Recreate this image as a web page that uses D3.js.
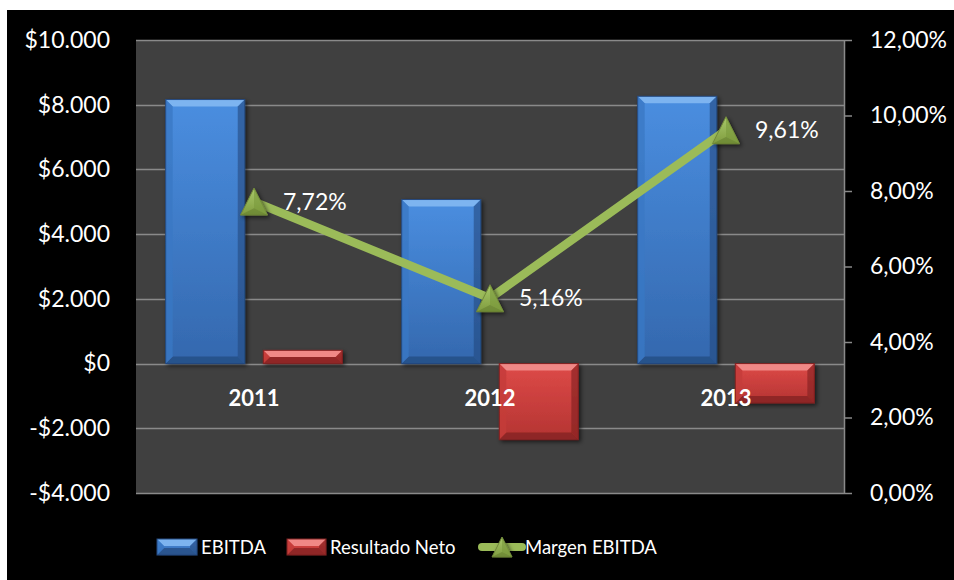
<!DOCTYPE html>
<html>
<head>
<meta charset="utf-8">
<script src="https://cdn.jsdelivr.net/npm/d3@7"></script>
<style>
  body { margin: 0; background: #fff; }
  svg text { font-family: Lato, "Open Sans", sans-serif; fill: #fff; }
</style>
</head>
<body>
<div id="chart"></div>
<script>
var years = ["2011", "2012", "2013"]
var series = ["EBITDA", "Resultado Neto"]
var ebitda = [8160, 5070, 8260]
var resultado = [410, -2350, -1220]
var margen = [0.0772, 0.0516, 0.0961]
var marginLabels = ["7,72%", "5,16%", "9,61%"]
var leftTicks = [-4000, -2000, 0, 2000, 4000, 6000, 8000, 10000]
var rightTicks = [0, 0.02, 0.04, 0.06, 0.08, 0.10, 0.12]

var width = 954, height = 580
var plot = { left: 136, right: 844, top: 40, bottom: 493 }

var locale = d3.formatLocale({
  decimal: ",", thousands: ".", grouping: [3], currency: ["$", ""], minus: "-"
})
var fmtMoney = locale.format("$,.0f")
var fmtPct = locale.format(".2%")

var svg = d3.select("#chart").append("svg")
  .attr("width", width)
  .attr("height", height)

var defs = svg.append("defs")

// bar gradients
var grads = [
  { id: "blue", top: "#4a8ee0", bottom: "#3468ae", hi: "#7db4f0", lo: "#24497e", side: "#3a78c4" },
  { id: "red", top: "#de4a48", bottom: "#b43432", hi: "#f08886", lo: "#7e2020", side: "#c43c3a" }
]
grads.forEach(function (g) {
  var lg = defs.append("linearGradient").attr("id", "g-" + g.id)
    .attr("x1", 0).attr("y1", 0).attr("x2", 0).attr("y2", 1)
  lg.append("stop").attr("offset", "0%").attr("stop-color", g.top)
  lg.append("stop").attr("offset", "100%").attr("stop-color", g.bottom)
})

var tg = defs.append("linearGradient").attr("id", "g-tri")
  .attr("x1", 0).attr("y1", 0).attr("x2", 0).attr("y2", 1)
tg.append("stop").attr("offset", "0%").attr("stop-color", "#a9c96a")
tg.append("stop").attr("offset", "100%").attr("stop-color", "#7f9c3f")

var shadow = defs.append("filter").attr("id", "shadow")
  .attr("x", "-20%").attr("y", "-20%").attr("width", "150%").attr("height", "150%")
shadow.append("feDropShadow").attr("dx", 2).attr("dy", 2).attr("stdDeviation", 2)
  .attr("flood-color", "#000").attr("flood-opacity", 0.6)

// background
svg.append("rect").attr("x", 7).attr("y", 10).attr("width", width - 7).attr("height", height - 10)
  .attr("fill", "#000")
svg.append("rect").attr("x", plot.left).attr("y", plot.top)
  .attr("width", plot.right - plot.left).attr("height", plot.bottom - plot.top)
  .attr("fill", "#404040")

var y = d3.scaleLinear().domain([-4000, 10000]).range([plot.bottom, plot.top])
var y2 = d3.scaleLinear().domain([0, 0.12]).range([plot.bottom, plot.top])
var x0 = d3.scaleBand().domain(years).range([plot.left, plot.right])
var x1 = d3.scaleBand().domain(series).range([0, x0.bandwidth()])
  .paddingInner(0.19).paddingOuter(0.304)

// gridlines
svg.append("g").selectAll("line").data(leftTicks).join("line")
  .attr("x1", plot.left).attr("x2", plot.right)
  .attr("y1", d => Math.round(y(d)) + 0.5).attr("y2", d => Math.round(y(d)) + 0.5)
  .attr("stroke", "#8a8a8a").attr("stroke-width", 1.5)

// left axis
var leftAxis = svg.append("g")
  .attr("transform", "translate(" + plot.left + ",0)")
  .call(d3.axisLeft(y).tickValues(leftTicks).tickFormat(fmtMoney).tickSize(0).tickPadding(26))
leftAxis.select(".domain").remove()
leftAxis.selectAll("text").style("font-size", "23px").attr("fill", "#fff")

// right axis
var rightAxis = svg.append("g")
  .attr("transform", "translate(" + plot.right + ",0)")
  .call(d3.axisRight(y2).tickValues(rightTicks).tickFormat(fmtPct).tickSize(8).tickSizeOuter(0).tickPadding(18))
rightAxis.select(".domain").attr("stroke", "#8a8a8a").attr("stroke-width", 1.5)
rightAxis.selectAll("line").attr("stroke", "#8a8a8a").attr("stroke-width", 1.5)
rightAxis.selectAll("text").style("font-size", "23px").attr("fill", "#fff")

// bevelled bar
function bevelBar(sel, x, yTop, w, h, g) {
  var b = Math.min(7, h / 2)
  var gg = sel.append("g").attr("filter", "url(#shadow)")
  gg.append("rect").attr("x", x).attr("y", yTop).attr("width", w).attr("height", h)
    .attr("fill", "url(#g-" + g.id + ")")
  // top facet
  gg.append("path").attr("d", "M" + x + "," + yTop + "h" + w + "l" + (-b) + "," + b + "h" + (-(w - 2 * b)) + "z")
    .attr("fill", g.hi)
  // bottom facet
  gg.append("path").attr("d", "M" + x + "," + (yTop + h) + "h" + w + "l" + (-b) + "," + (-b) + "h" + (-(w - 2 * b)) + "z")
    .attr("fill", g.lo).attr("opacity", 0.7)
  // left facet
  gg.append("path").attr("d", "M" + x + "," + yTop + "l" + b + "," + b + "v" + (h - 2 * b) + "l" + (-b) + "," + b + "z")
    .attr("fill", g.side).attr("opacity", 0.8)
  // right facet
  gg.append("path").attr("d", "M" + (x + w) + "," + yTop + "l" + (-b) + "," + b + "v" + (h - 2 * b) + "l" + b + "," + b + "z")
    .attr("fill", g.lo).attr("opacity", 0.6)
  gg.append("rect").attr("x", x).attr("y", yTop).attr("width", w).attr("height", h)
    .attr("fill", "none").attr("stroke", g.lo).attr("stroke-width", 1)
}

var bars = svg.append("g")
years.forEach(function (yr, i) {
  var vals = [ebitda[i], resultado[i]]
  vals.forEach(function (v, j) {
    var bx = x0(yr) + x1(series[j])
    var top = y(Math.max(0, v))
    var h = Math.abs(y(v) - y(0))
    bevelBar(bars, bx, top, x1.bandwidth(), h, grads[j])
  })
})

// category labels
svg.append("g").selectAll("text").data(years).join("text")
  .attr("x", d => x0(d) + x0.bandwidth() / 2)
  .attr("y", y(0) + 42)
  .attr("text-anchor", "middle")
  .style("font-size", "22px").style("font-weight", "bold")
  .text(d => d)

// margin line
var cx = d => x0(d) + x0.bandwidth() / 2
var line = d3.line().x((d, i) => cx(years[i])).y(d => y2(d))
svg.append("path").datum(margen)
  .attr("d", line)
  .attr("fill", "none").attr("stroke", "#9bbb59").attr("stroke-width", 8.5)
  .attr("stroke-linejoin", "round")

function triangle(sel, px, py, s) {
  var h = s
  var g = sel.append("g").attr("transform", "translate(" + px + "," + py + ")")
    .attr("filter", "url(#shadow)")
  g.append("path").attr("d", "M0," + (-h / 2) + "L" + (s / 2) + "," + (h / 2) + "L" + (-s / 2) + "," + (h / 2) + "Z")
    .attr("fill", "url(#g-tri)").attr("stroke", "#71893a").attr("stroke-width", 1)
  g.append("path").attr("d", "M0," + (-h / 2) + "L" + (s / 2) + "," + (h / 2) + "L0," + (h / 4) + "Z")
    .attr("fill", "#7a9a3c").attr("opacity", 0.6)
  g.append("path").attr("d", "M" + (-s / 2) + "," + (h / 2) + "L" + (s / 2) + "," + (h / 2) + "L0," + (h / 4) + "Z")
    .attr("fill", "#5f7a2c").attr("opacity", 0.5)
}

margen.forEach(function (m, i) {
  triangle(svg, cx(years[i]), y2(m), 27)
})

svg.append("g").selectAll("text").data(margen).join("text")
  .attr("x", (d, i) => cx(years[i]) + 29)
  .attr("y", d => y2(d) + 8)
  .style("font-size", "23px")
  .text((d, i) => marginLabels[i])

// legend
var legend = svg.append("g")
var ly = 547
var lfs = "18.5px"
bevelBar(legend, 157, ly - 8, 40, 16, grads[0])
legend.append("text").attr("x", 201).attr("y", ly + 7).style("font-size", lfs).text(series[0])
bevelBar(legend, 287, ly - 8, 39, 16, grads[1])
legend.append("text").attr("x", 330).attr("y", ly + 7).style("font-size", lfs).text(series[1])
legend.append("line").attr("x1", 482).attr("x2", 522).attr("y1", ly).attr("y2", ly)
  .attr("stroke", "#9bbb59").attr("stroke-width", 8).attr("stroke-linecap", "round")
triangle(legend, 502, ly, 20)
legend.append("text").attr("x", 525).attr("y", ly + 7).style("font-size", lfs).text("Margen EBITDA")
</script>
</body>
</html>
